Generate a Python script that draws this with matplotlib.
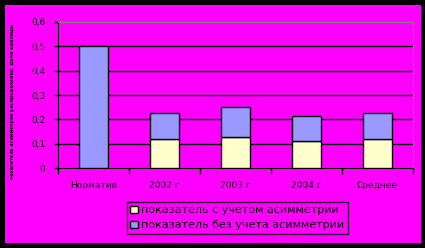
import matplotlib
matplotlib.use("Agg")
import matplotlib.pyplot as plt
from matplotlib.patches import Rectangle

categories = ["Норматив", "2002 г", "2003 г", "2004 г", "Среднее"]
with_asym = [0.0, 0.121, 0.129, 0.113, 0.121]
without_asym = [0.5, 0.107, 0.120, 0.099, 0.107]
yticks = [0, 0.1, 0.2, 0.3, 0.4, 0.5, 0.6]
ytick_labels = ["0", "0,1", "0,2", "0,3", "0,4", "0,5", "0,6"]
series_names = ["показатель с учетом асимметрии", "показатель без учета асимметрии"]

W, H = 425, 248
fig = plt.figure(figsize=(W / 100, H / 100), dpi=100)
fig.patch.set_facecolor("black")
# фон диаграммы
bg = Rectangle((5 / W, 5 / H), 416 / W, 238 / H, transform=fig.transFigure,
               facecolor="#FF00FF", edgecolor="none", zorder=-10)
fig.add_artist(bg)

ax = fig.add_axes([57.7 / W, 1 - 168 / H, 355.3 / W, 146 / H])
ax.set_facecolor("#FF00FF")
ax.set_zorder(2)

x = list(range(len(categories)))
b1 = ax.bar(x, with_asym, width=0.41, color="#FFFFCC", edgecolor="black",
            linewidth=1, zorder=3, label=series_names[0])
b2 = ax.bar(x, without_asym, width=0.41, bottom=with_asym, color="#9999FF",
            edgecolor="black", linewidth=1, zorder=3, label=series_names[1])

ax.set_xlim(-0.5, len(categories) - 0.5)
ax.set_ylim(0, 0.6)
ax.set_yticks(yticks)
ax.set_yticklabels(ytick_labels)
ax.set_xticks(x)
ax.set_xticklabels(categories)
ax.set_xticks([i + 0.5 for i in range(-1, len(categories))], minor=True)
ax.tick_params(axis="x", which="major", length=0, pad=9, labelsize=6.5)
ax.tick_params(axis="x", which="minor", length=4, width=1, direction="out")
ax.tick_params(axis="y", length=3, width=1, direction="out", labelsize=6.5, pad=6)

for v in yticks[1:-1]:
    ax.axhline(v, color="black", linewidth=1, zorder=1)

ax.spines["left"].set_color("black")
ax.spines["bottom"].set_color("black")
ax.spines["top"].set_color("gray")
ax.spines["right"].set_color("gray")

fig.text(13 / W, 1 - 102 / H, "показатель асимметрии распределения, доли единицы",
         rotation=90, fontsize=3.4, ha="center", va="center", color="black",
         fontweight="bold", zorder=5)

leg = fig.legend(handles=[b1, b2], loc="upper left",
                 bbox_to_anchor=(127 / W, 1 - 202 / H), fontsize=8,
                 frameon=True, fancybox=False, handlelength=0.7, handleheight=0.7,
                 handletextpad=0.3, borderpad=0.3, labelspacing=0.45,
                 borderaxespad=0)
leg.get_frame().set_facecolor("#FF00FF")
leg.get_frame().set_edgecolor("black")
leg.get_frame().set_linewidth(1)
leg.set_zorder(5)

fig.savefig("out.png", dpi=100, facecolor=fig.get_facecolor())
